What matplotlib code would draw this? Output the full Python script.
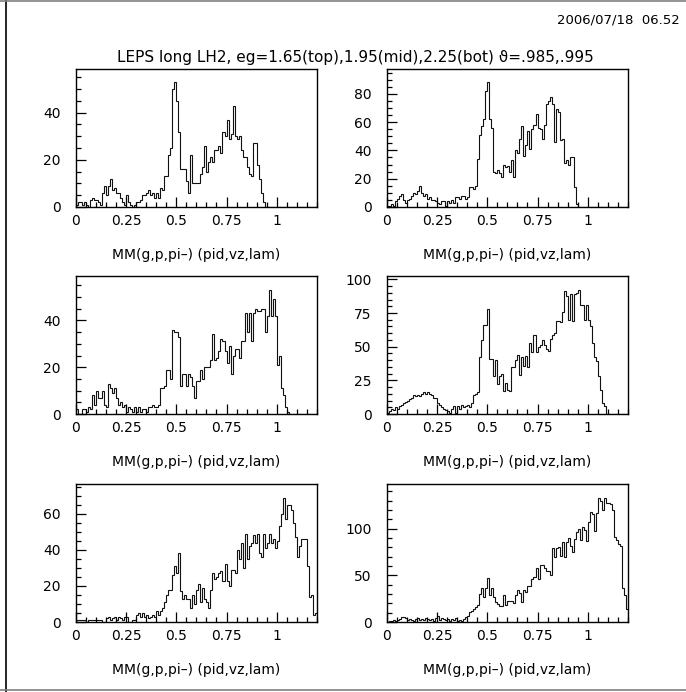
import numpy as np
import matplotlib
matplotlib.use("Agg")
import matplotlib.pyplot as plt
from matplotlib.lines import Line2D
from matplotlib.ticker import MultipleLocator

plt.rcParams['font.family'] = ['DejaVu Sans']

# 120 bins of 0.01 from 0 to 1.2
edges = np.linspace(0, 1.2, 121)

h1 = [1, 2, 2, 1, 2, 1, 0, 3, 4, 3,
      3, 2, 1, 6, 9, 5, 9, 12, 7, 8,
      6, 6, 4, 2, 1, 5, 2, 1, 0, 1,
      2, 2, 3, 5, 5, 6, 7, 5, 6, 4,
      6, 4, 8, 7, 13, 13, 22, 25, 50, 53,
      45, 32, 16, 16, 16, 11, 6, 22, 10, 10,
      10, 10, 14, 17, 26, 15, 19, 21, 19, 24,
      24, 26, 23, 32, 30, 37, 29, 31, 43, 30,
      29, 30, 24, 21, 21, 17, 14, 13, 27, 27,
      18, 12, 6, 2, 0, 0, 0, 0, 0, 0] + [0] * 20

h2 = [1, 1, 2, 1, 4, 6, 8, 9, 5, 3,
      5, 6, 8, 10, 9, 11, 15, 10, 8, 9,
      6, 7, 5, 5, 4, 3, 2, 4, 4, 1,
      4, 3, 5, 3, 7, 7, 6, 8, 8, 6,
      7, 14, 14, 13, 15, 34, 51, 57, 62, 82,
      88, 62, 56, 25, 24, 26, 24, 21, 30, 28,
      29, 25, 33, 21, 40, 38, 48, 57, 36, 44,
      54, 41, 55, 58, 66, 56, 55, 48, 58, 73,
      75, 78, 73, 46, 69, 67, 47, 48, 31, 33,
      30, 35, 35, 14, 2, 0, 0, 0, 0, 0] + [0] * 20

h3 = [2, 0, 0, 2, 2, 1, 3, 2, 8, 4,
      10, 7, 7, 10, 4, 3, 13, 11, 9, 11,
      7, 4, 5, 3, 4, 1, 3, 2, 1, 3,
      1, 3, 1, 2, 2, 1, 3, 3, 4, 3,
      3, 4, 11, 11, 12, 19, 19, 15, 36, 35,
      35, 33, 12, 17, 17, 12, 17, 16, 12, 7,
      14, 14, 19, 15, 20, 20, 20, 23, 34, 23,
      24, 27, 32, 31, 27, 22, 29, 17, 25, 28,
      28, 24, 31, 31, 43, 35, 43, 31, 43, 45,
      44, 44, 45, 45, 35, 42, 53, 42, 49, 42,
      21, 25, 11, 8, 3, 1, 0, 0, 0, 0] + [0] * 10

h4 = [1, 2, 4, 3, 5, 4, 6, 7, 8, 9,
      10, 11, 12, 14, 13, 14, 13, 15, 16, 15,
      16, 15, 14, 12, 12, 8, 7, 5, 4, 3,
      2, 1, 4, 6, 1, 6, 4, 7, 5, 6,
      7, 5, 8, 14, 15, 16, 42, 55, 66, 66,
      78, 41, 41, 28, 40, 22, 28, 30, 17, 23,
      18, 17, 35, 35, 40, 44, 29, 42, 36, 43,
      35, 53, 46, 59, 46, 50, 51, 55, 51, 48,
      47, 56, 59, 60, 69, 69, 68, 76, 91, 88,
      70, 89, 69, 89, 90, 92, 81, 81, 70, 81,
      70, 65, 53, 42, 39, 28, 18, 8, 6, 0] + [0] * 10

h5 = [1, 1, 1, 1, 1, 0, 1, 1, 1, 1,
      1, 1, 1, 0, 0, 2, 3, 1, 2, 3,
      1, 3, 2, 1, 3, 3, 0, 0, 1, 1,
      4, 5, 3, 5, 3, 4, 2, 3, 4, 3,
      6, 4, 6, 8, 11, 15, 18, 18, 26, 31,
      27, 38, 17, 13, 15, 13, 13, 8, 15, 10,
      18, 21, 11, 19, 13, 11, 8, 18, 27, 24,
      25, 27, 28, 23, 32, 23, 20, 29, 29, 27,
      40, 35, 44, 30, 49, 35, 42, 44, 48, 44,
      49, 38, 36, 49, 41, 44, 49, 44, 46, 41,
      45, 53, 60, 69, 57, 65, 65, 62, 55, 47,
      36, 42, 46, 46, 46, 31, 14, 15, 4, 5]

h6 = [0, 1, 1, 2, 1, 2, 3, 5, 5, 4,
      2, 3, 2, 1, 3, 4, 2, 3, 2, 4,
      3, 2, 3, 1, 4, 6, 2, 4, 3, 2,
      3, 1, 3, 2, 4, 1, 2, 1, 3, 5,
      6, 11, 12, 14, 16, 18, 30, 36, 27, 37,
      47, 29, 37, 27, 21, 19, 17, 17, 29, 18,
      22, 22, 23, 20, 29, 34, 31, 21, 34, 32,
      39, 39, 46, 48, 58, 46, 61, 61, 58, 55,
      55, 50, 79, 70, 79, 80, 71, 86, 70, 86,
      90, 82, 75, 89, 96, 100, 88, 102, 99, 87,
      107, 118, 116, 98, 117, 133, 130, 120, 133, 128,
      128, 127, 120, 91, 88, 84, 81, 37, 29, 14]

hists = [h1, h2, h3, h4, h5, h6]
ymax = [58.5, 97.5, 59, 102.5, 76.5, 148]
ymajor = [20, 20, 20, 25, 20, 50]
yminor = [5, 5, 5, 5, 5, 10]

W, H = 686, 692
fig = plt.figure(figsize=(W / 100, H / 100), dpi=100)

def rect(l, t, w, h):
    return [l / W, 1 - (t + h) / H, w / W, h / H]

lefts = [75.7, 386.7]
tops = [69, 276, 484]
aw, ah = 241.3, 138

for k in range(6):
    row, col = k // 2, k % 2
    ax = fig.add_axes(rect(lefts[col], tops[row], aw, ah))
    ax.stairs(hists[k], edges, color='#111111', lw=0.8)
    ax.set_xlim(0, 1.2)
    ax.set_ylim(0, ymax[k])
    ax.xaxis.set_major_locator(MultipleLocator(0.25))
    ax.xaxis.set_minor_locator(MultipleLocator(0.05))
    ax.yaxis.set_major_locator(MultipleLocator(ymajor[k]))
    ax.yaxis.set_minor_locator(MultipleLocator(yminor[k]))
    ax.xaxis.set_major_formatter(lambda v, p: '%g' % v)
    ax.tick_params(which='both', direction='in', top=False, right=False,
                   labelsize=10, width=0.9)
    ax.tick_params(which='major', length=7)
    ax.tick_params(which='minor', length=3.5)
    ax.tick_params(axis='x', pad=5)
    ax.tick_params(axis='y', pad=11)
    for s in ax.spines.values():
        s.set_linewidth(1.0)
    ax.text(0.5, -48 / ah, 'MM(g,p,pi\u2013) (pid,vz,lam)', transform=ax.transAxes,
            ha='center', va='center', fontsize=10)

fig.text(680 / W, 1 - 20 / H, '2006/07/18  06.52', ha='right', va='center',
         fontsize=9.5)
fig.text(355 / W, 1 - 57.5 / H,
         'LEPS long LH2, eg=1.65(top),1.95(mid),2.25(bot) \u03d1=.985,.995',
         ha='center', va='center', fontsize=11)

# page frame
fig.add_artist(Line2D([6 / W, 6 / W], [0, 1], color='black', lw=1.2))
fig.add_artist(Line2D([0, 1], [1 - 0.5 / H, 1 - 0.5 / H], color='gray', lw=1.2))
fig.add_artist(Line2D([0, 1], [1 - 690 / H, 1 - 690 / H], color='gray', lw=1.2))

fig.savefig('out.png', dpi=100)
